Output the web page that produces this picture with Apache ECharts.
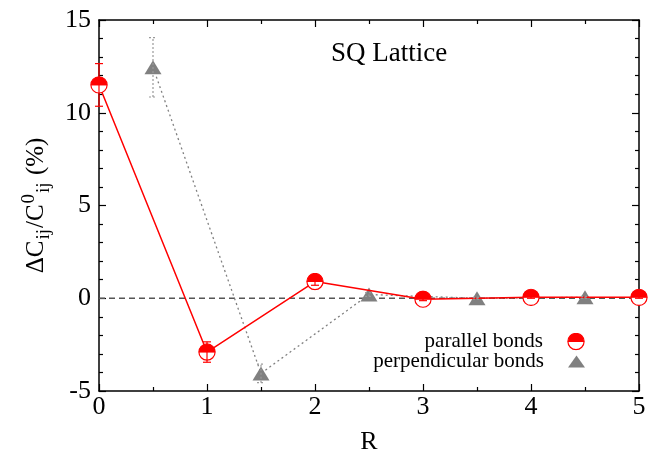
<!DOCTYPE html>
<html>
<head>
<meta charset="utf-8">
<script src="https://cdn.jsdelivr.net/npm/echarts@6/dist/echarts.min.js"></script>
<style>html,body{margin:0;padding:0;background:#fff;}#c{width:662px;height:460px;}</style>
</head>
<body>
<div id="c"></div>
<script>
const R_par = [0, 1, 2, 3, 4, 5];
const dC_par = [11.5, -2.9, 0.9, -0.05, 0.05, 0.05];
const err_par = [1.15, 0.55, 0.2, 0.08, 0.05, 0.05];
const R_perp = [0.5, 1.5, 2.5, 3.5, 4.5];
const dC_perp = [12.45, -4.05, 0.2, 0.0, 0.05];
const err_perp = [1.6, 0.5, 0.1, 0.05, 0.05];
const xTicks = [0, 1, 2, 3, 4, 5];
const yTicks = [-5, 0, 5, 10, 15];
const zeroLine = [[0, 0], [5, 0]];

const FONT = '"Liberation Serif", "DejaVu Serif", serif';
const RED = '#ff0000';
const GRAY = '#808080';

const svg = '<svg xmlns="http://www.w3.org/2000/svg" width="40" height="40" viewBox="0 0 20 20">' +
  '<circle cx="10" cy="10" r="9" fill="#ffffff" stroke="#ff0000" stroke-width="1.3"/>' +
  '<path d="M1,10 A9,9 0 0 1 19,10 Z" fill="#ff0000"/>' +
  '<line x1="1" y1="10" x2="19" y2="10" stroke="#ff0000" stroke-width="1.2"/></svg>';
const halfCircle = 'image://data:image/svg+xml;charset=utf-8,' + encodeURIComponent(svg);

const parPts = R_par.map((r, i) => [r, dC_par[i]]);
const perpPts = R_perp.map((r, i) => [r, dC_perp[i]]);
const parErr = R_par.map((r, i) => [r, dC_par[i] - err_par[i], dC_par[i] + err_par[i]]);
const perpErr = R_perp.map((r, i) => [r, dC_perp[i] - err_perp[i], dC_perp[i] + err_perp[i]]);

function errRender(color, dash, capW) {
  return function (params, api) {
    const x = api.value(0);
    const lo = api.coord([x, api.value(1)]);
    const hi = api.coord([x, api.value(2)]);
    const st = { stroke: color, lineWidth: 1.2, lineDash: dash };
    return {
      type: 'group',
      children: [
        { type: 'line', shape: { x1: lo[0], y1: lo[1], x2: hi[0], y2: hi[1] }, style: st },
        { type: 'line', shape: { x1: lo[0] - capW, y1: lo[1], x2: lo[0] + capW, y2: lo[1] }, style: st },
        { type: 'line', shape: { x1: hi[0] - capW, y1: hi[1], x2: hi[0] + capW, y2: hi[1] }, style: st }
      ]
    };
  };
}

const axisCommon = {
  type: 'value',
  axisLine: { show: true, onZero: false, lineStyle: { color: '#000', width: 1.5 } },
  axisTick: { show: true, inside: true, length: 7, lineStyle: { color: '#000', width: 1.2 } },
  minorTick: { show: true, length: 4, lineStyle: { color: '#000', width: 1.2 } },
  splitLine: { show: false },
  minorSplitLine: { show: false }
};

const legendText = { fontFamily: FONT, fontSize: 21, color: '#000', lineHeight: 20, padding: [0, 19, 0, 0] };

const chart = echarts.init(document.getElementById('c'));
chart.setOption({
  animation: false,
  backgroundColor: '#fff',
  grid: { left: 99, right: 23, top: 20, bottom: 67 },
  title: {
    text: 'SQ Lattice', left: 331, top: 40, padding: 0,
    textStyle: { fontFamily: FONT, fontSize: 27, fontWeight: 'normal', color: '#000' }
  },
  legend: [
    {
      orient: 'vertical', right: 77, top: 331, align: 'right', padding: 0,
      itemWidth: 18, itemHeight: 18, itemGap: 0,
      textStyle: legendText,
      data: [{ name: 'parallel bonds', icon: halfCircle }]
    },
    {
      orient: 'vertical', right: 77, top: 351, align: 'right', padding: 0,
      itemWidth: 17, itemHeight: 12, itemGap: 0,
      textStyle: legendText,
      data: [{ name: 'perpendicular bonds', icon: 'triangle' }]
    }
  ],
  xAxis: [
    Object.assign({}, axisCommon, {
      position: 'bottom', min: xTicks[0], max: xTicks[xTicks.length - 1], interval: 1,
      minorTick: Object.assign({}, axisCommon.minorTick, { splitNumber: 2, length: 4 }),
      axisLabel: { fontFamily: FONT, fontSize: 26, color: '#000', margin: 3 },
      name: 'R', nameLocation: 'middle', nameGap: 38,
      nameTextStyle: { fontFamily: FONT, fontSize: 26, color: '#000' }
    }),
    Object.assign({}, axisCommon, {
      position: 'top', min: xTicks[0], max: xTicks[xTicks.length - 1], interval: 1,
      minorTick: Object.assign({}, axisCommon.minorTick, { splitNumber: 2, length: 4 }),
      axisLabel: { show: false }
    })
  ],
  yAxis: [
    Object.assign({}, axisCommon, {
      position: 'left', min: yTicks[0], max: yTicks[yTicks.length - 1], interval: 5,
      minorTick: Object.assign({}, axisCommon.minorTick, { splitNumber: 5, length: 4 }),
      axisLabel: { fontFamily: FONT, fontSize: 26, color: '#000', margin: 8 },
      name: '{n|ΔC}{sub|ij}{n|/C}{sup|0}{sub|ij}{n| (%)}',
      nameLocation: 'middle', nameGap: 41, nameRotate: 90,
      nameTextStyle: {
        fontFamily: FONT, fontSize: 25, color: '#000',
        rich: {
          n: { fontFamily: FONT, fontSize: 25, color: '#000', lineHeight: 36, verticalAlign: 'middle' },
          sub: { fontFamily: FONT, fontSize: 19, color: '#000', lineHeight: 36, verticalAlign: 'bottom', padding: [0, 1, 1, 1] },
          sup: { fontFamily: FONT, fontSize: 19, color: '#000', lineHeight: 36, verticalAlign: 'top', padding: [1, 0, 0, 1] }
        }
      }
    }),
    Object.assign({}, axisCommon, {
      position: 'right', min: yTicks[0], max: yTicks[yTicks.length - 1], interval: 5,
      minorTick: Object.assign({}, axisCommon.minorTick, { splitNumber: 5, length: 4 }),
      axisLabel: { show: false }
    })
  ],
  series: [
    {
      type: 'line', name: 'zero', data: zeroLine, symbol: 'none', silent: true, z: 1,
      lineStyle: { color: '#555', width: 1.3, type: [6, 4] }
    },
    {
      type: 'line', name: 'perpendicular bonds', data: perpPts, z: 2,
      symbol: 'triangle', symbolSize: [17, 14], color: GRAY,
      itemStyle: { color: GRAY },
      lineStyle: { color: GRAY, width: 1.3, type: [2, 3] }
    },
    {
      type: 'line', name: 'parallel bonds', data: parPts, z: 3,
      symbol: halfCircle, symbolSize: 18, color: RED,
      itemStyle: { color: RED },
      lineStyle: { color: RED, width: 1.5 }
    },
    {
      type: 'custom', name: 'perpErr', data: perpErr, z: 4, silent: true,
      encode: { x: 0, y: [1, 2] },
      renderItem: errRender('#999', [2, 2], 4)
    },
    {
      type: 'custom', name: 'parErr', data: parErr, z: 5, silent: true,
      encode: { x: 0, y: [1, 2] },
      renderItem: errRender(RED, null, 4)
    }
  ]
});
</script>
</body>
</html>
